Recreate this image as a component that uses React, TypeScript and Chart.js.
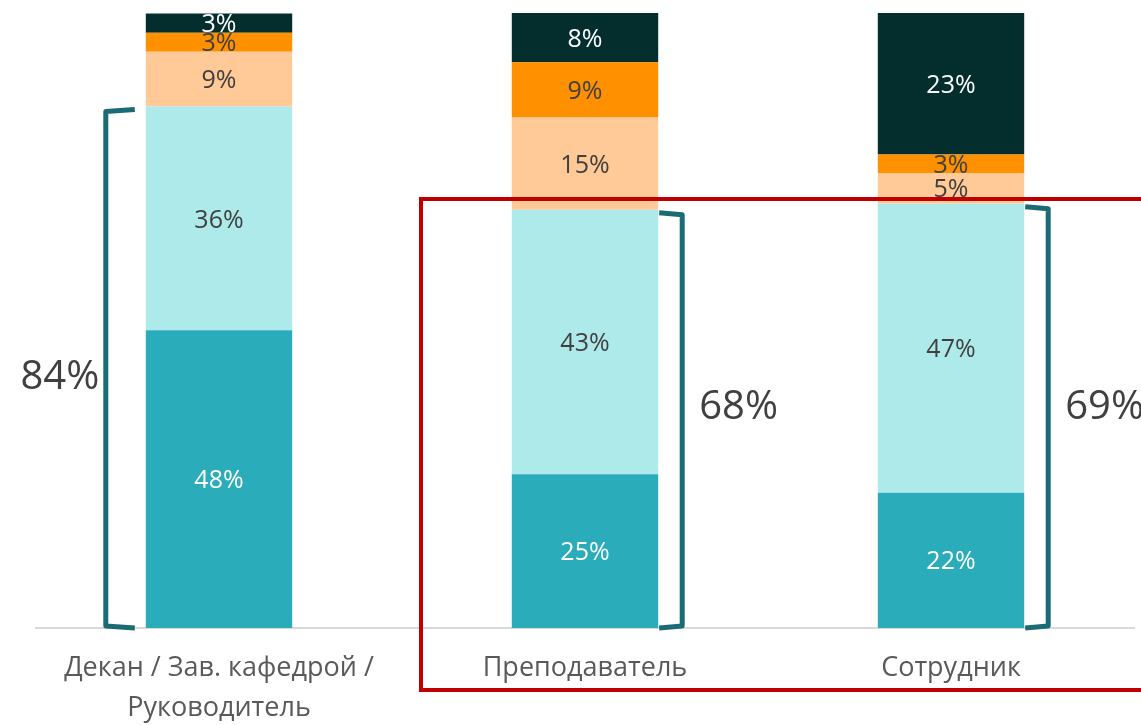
import React, { useEffect, useRef } from "react";
import { Chart, registerables } from "chart.js";
Chart.register(...registerables);

const categories: (string | string[])[] = [
  ["Декан / Зав. кафедрой /", "Руководитель"],
  "Преподаватель",
  "Сотрудник",
];
const seriesNames = ["s1", "s2", "s3", "s4", "s5"];
const s1 = [48.4, 25, 22];
const s2 = [36.4, 43, 47];
const s3 = [8.9, 15, 5];
const s4 = [3.1, 9, 3];
const s5 = [3.1, 8, 23];
const bracketTotals = ["84%", "68%", "69%"];
const colors = ["#2AACBB", "#AEEAEA", "#FFCA97", "#FF9100", "#042E2E"];
const labelColors = ["#FFFFFF", "#404040", "#404040", "#404040", "#FFFFFF"];
const FONT = "'Open Sans', 'Noto Sans', sans-serif";
const W = 1141;
const H = 749;

const annotPlugin = {
  id: "annot",
  afterDatasetsDraw(chart: any) {
    const ctx = chart.ctx;
    const y = chart.scales.y;
    chart.data.datasets.forEach((ds: any, di: number) => {
      const meta = chart.getDatasetMeta(di);
      meta.data.forEach((bar: any, i: number) => {
        const v = ds.data[i];
        const cy = (bar.y + bar.base) / 2;
        ctx.save();
        ctx.font = `25px ${FONT}`;
        ctx.fillStyle = labelColors[di];
        ctx.textAlign = "center";
        ctx.textBaseline = "middle";
        ctx.fillText(Math.round(v) + "%", bar.x, cy + 2);
        ctx.restore();
      });
    });
    const meta0 = chart.getDatasetMeta(0);
    ctx.save();
    ctx.strokeStyle = "#1B6B74";
    ctx.lineWidth = 5;
    ctx.lineJoin = "round";
    ctx.lineCap = "butt";
    meta0.data.forEach((bar: any, i: number) => {
      const top = y.getPixelForValue(s1[i] + s2[i]) + 3;
      const bottom = y.getPixelForValue(0);
      const half = bar.width / 2;
      ctx.beginPath();
      if (i === 0) {
        const xl = bar.x - half - 40;
        const xe = bar.x - half - 11;
        ctx.moveTo(xe, top);
        ctx.lineTo(xl, top + 2);
        ctx.lineTo(xl, bottom - 2);
        ctx.lineTo(xe, bottom);
      } else {
        const xr = bar.x + half + 24;
        const xs = bar.x + half + 1;
        ctx.moveTo(xs, top);
        ctx.lineTo(xr, top + 2);
        ctx.lineTo(xr, bottom - 2);
        ctx.lineTo(xs, bottom);
      }
      ctx.stroke();
    });
    ctx.restore();
    ctx.save();
    ctx.font = `40px ${FONT}`;
    ctx.fillStyle = "#404040";
    ctx.textBaseline = "middle";
    meta0.data.forEach((bar: any, i: number) => {
      const half = bar.width / 2;
      if (i === 0) {
        ctx.textAlign = "center";
        ctx.fillText(bracketTotals[i], bar.x - half - 86, 378);
      } else {
        ctx.textAlign = "left";
        ctx.fillText(bracketTotals[i], bar.x + half + 41, 408);
      }
    });
    ctx.restore();
    ctx.save();
    ctx.strokeStyle = "#C00000";
    ctx.lineWidth = 4;
    ctx.strokeRect(421, 199, 740, 491);
    ctx.restore();
  },
};

export default function App() {
  const ref = useRef<HTMLCanvasElement>(null);
  useEffect(() => {
    const all = [s1, s2, s3, s4, s5];
    const chart = new Chart(ref.current!, {
      type: "bar",
      data: {
        labels: categories as any,
        datasets: all.map((d, i) => ({
          label: seriesNames[i],
          data: d,
          backgroundColor: colors[i],
          borderWidth: 0,
          barPercentage: 0.4,
          categoryPercentage: 1,
        })),
      },
      options: {
        animation: false,
        responsive: false,
        maintainAspectRatio: false,
        layout: { padding: { left: 36, right: 7, top: 13, bottom: 0 } },
        plugins: { legend: { display: false }, tooltip: { enabled: false } },
        scales: {
          x: {
            stacked: true,
            grid: { display: false, drawTicks: false },
            border: { display: true, color: "#D9D9D9", width: 2 },
            ticks: {
              color: "#595959",
              font: { family: FONT, size: 27, lineHeight: 1.5 },
              padding: 20,
              maxRotation: 0,
            },
          },
          y: {
            stacked: true,
            display: false,
            min: 0,
            max: 100,
          },
        },
      },
      plugins: [annotPlugin],
    });
    return () => chart.destroy();
  }, []);
  return (
    <div style={{ position: "fixed", left: 0, top: 0, width: W, height: 725, overflow: "hidden", background: "#fff" }}>
      <canvas ref={ref} width={W} height={H} style={{ width: W, height: H, display: "block" }} />
    </div>
  );
}
